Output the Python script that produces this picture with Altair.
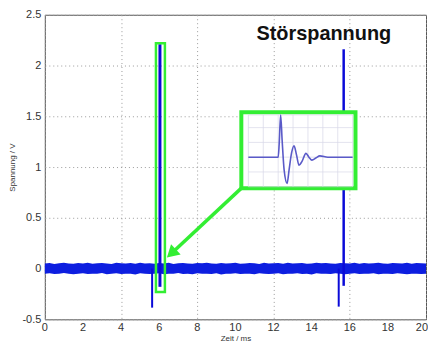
import altair as alt
import numpy as np
import pandas as pd

# ---------------- data ----------------
t_noise = list(np.round(np.arange(0, 20.0001, 0.25), 2))
noise_upper = [0.050, 0.054, 0.044, 0.052, 0.056, 0.050, 0.047, 0.054, 0.050, 0.058,
               0.047, 0.052, 0.054, 0.050, 0.044, 0.056, 0.052, 0.050, 0.054, 0.047,
               0.058, 0.050, 0.052, 0.047, 0.054, 0.050, 0.056, 0.044, 0.052, 0.054,
               0.050, 0.047, 0.054, 0.052, 0.058, 0.050, 0.047, 0.054, 0.050, 0.052,
               0.056, 0.047, 0.050, 0.054, 0.052, 0.044, 0.056, 0.050, 0.052, 0.054,
               0.047, 0.058, 0.050, 0.052, 0.054, 0.047, 0.050, 0.056, 0.052, 0.054,
               0.050, 0.047, 0.054, 0.052, 0.050, 0.056, 0.047, 0.054, 0.050, 0.052,
               0.058, 0.050, 0.047, 0.054, 0.052, 0.050, 0.056, 0.047, 0.054, 0.052,
               0.050]
noise_lower = [-0.050, -0.047, -0.054, -0.050, -0.044, -0.052, -0.056, -0.050, -0.047, -0.054,
               -0.052, -0.050, -0.044, -0.056, -0.050, -0.047, -0.054, -0.052, -0.050, -0.058,
               -0.047, -0.052, -0.054, -0.050, -0.047, -0.056, -0.050, -0.052, -0.044, -0.054,
               -0.050, -0.056, -0.047, -0.052, -0.050, -0.054, -0.047, -0.058, -0.050, -0.052,
               -0.047, -0.054, -0.050, -0.052, -0.056, -0.047, -0.050, -0.054, -0.052, -0.047,
               -0.056, -0.050, -0.052, -0.047, -0.054, -0.050, -0.058, -0.047, -0.052, -0.050,
               -0.054, -0.047, -0.052, -0.056, -0.050, -0.047, -0.054, -0.050, -0.052, -0.047,
               -0.056, -0.050, -0.052, -0.054, -0.047, -0.050, -0.056, -0.052, -0.050, -0.054,
               -0.050]

spike_x = [5.63, 6.04, 15.42, 15.68]
spike_top = [0.0, 2.21, 0.0, 2.16]
spike_bottom = [-0.385, -0.18, -0.375, -0.17]
spike_width = [2.0, 3.0, 2.0, 2.5]

# highlight rectangle around the spike
hl_x = [5.83, 6.30]
hl_y = [-0.23, 2.22]

# arrow from inset to spike
arrow_x = [10.30, 6.64]
arrow_y = [0.79, 0.149]

# inset box (main data coordinates)
box_x = [10.31, 16.30]
box_y = [0.79, 1.54]
# inner plotting area of the inset (main data coordinates)
inner_x = [10.68, 16.15]
inner_y = [0.806, 1.513]

# inset waveform (own units: t 0..105, v -0.7..1.0)
wave_t = [0, 30, 31, 32.5, 34, 36, 39, 41, 43.5, 46, 48.5, 51, 54, 58, 61, 64, 68, 72, 80, 90, 105]
wave_v = [0, 0, 0.3, 1.0, 0.4, -0.3, -0.62, -0.3, 0.1, 0.27, 0.05, -0.19, -0.1, 0.09, 0.0,
          -0.07, -0.02, 0.03, 0, 0, 0]
inset_t_dom = [0, 105]
inset_v_dom = [-0.7, 1.0]
inset_grid_t = [0, 15, 30, 45, 60, 75, 90, 105]
inset_grid_v = [-0.7, -0.35, 0, 0.35, 0.7, 1.0]

title_text = "Störspannung"
x_ticks = list(range(0, 21, 2))
y_ticks = [-0.5, 0, 0.5, 1, 1.5, 2, 2.5]

W, H = 383, 306
XD = [0, 20]
YD = [-0.5, 2.5]
FONT = "Liberation Sans"
GREEN = "#33ee33"
BLUE = "#0d1ee0"

# ---------------- main layers ----------------
xs = alt.Scale(domain=XD, nice=False, zero=False)
ys = alt.Scale(domain=YD, nice=False, zero=False)

noise_df = pd.DataFrame({"t": t_noise, "hi": noise_upper, "lo": noise_lower})
noise = alt.Chart(noise_df).mark_area(color=BLUE, opacity=1).encode(
    x=alt.X("t:Q", scale=xs, title="Zeit / ms",
            axis=alt.Axis(values=x_ticks, labels=False, titlePadding=15)),
    y=alt.Y("hi:Q", scale=ys, title="Spannung / V",
            axis=alt.Axis(values=y_ticks, labelOverlap=False, labelExpr="toString(datum.value)")),
    y2="lo:Q",
)

# x tick labels drawn as text through the x scale
xl_df = pd.DataFrame({"v": x_ticks, "y": YD[0], "lab": [str(v) for v in x_ticks]})
xl_mid = alt.Chart(xl_df[xl_df.v < XD[1]]).mark_text(
    align="center", baseline="top", dy=3, font=FONT, fontSize=11, color="#333").encode(
    x=alt.X("v:Q", scale=xs), y=alt.Y("y:Q", scale=ys), text="lab:N")
xl_end = alt.Chart(xl_df[xl_df.v == XD[1]]).mark_text(
    align="right", baseline="top", dy=3, dx=2, font=FONT, fontSize=11, color="#333").encode(
    x=alt.X("v:Q", scale=xs), y=alt.Y("y:Q", scale=ys), text="lab:N")

spike_df = pd.DataFrame({"x": spike_x, "top": spike_top, "bot": spike_bottom, "w": spike_width})
spikes = alt.Chart(spike_df).mark_rule(color="#0a0ad8").encode(
    x=alt.X("x:Q", scale=xs), y=alt.Y("top:Q", scale=ys), y2="bot:Q",
    strokeWidth=alt.StrokeWidth("w:Q", scale=None),
)

hl_df = pd.DataFrame({"x": [hl_x[0]], "x2": [hl_x[1]], "y": [hl_y[0]], "y2": [hl_y[1]]})
hl = alt.Chart(hl_df).mark_rect(fill=None, stroke=GREEN, strokeWidth=2.5).encode(
    x=alt.X("x:Q", scale=xs), x2="x2:Q", y=alt.Y("y:Q", scale=ys), y2="y2:Q")

arrow_df = pd.DataFrame({"x": arrow_x, "y": arrow_y, "o": [0, 1]})
arrow_line = alt.Chart(arrow_df).mark_line(color=GREEN, strokeWidth=3.5).encode(
    x=alt.X("x:Q", scale=xs), y=alt.Y("y:Q", scale=ys), order="o:Q")
head_df = pd.DataFrame({"x": [arrow_x[1]], "y": [arrow_y[1]]})
arrow_head = alt.Chart(head_df).mark_point(
    shape="triangle-up", filled=True, color=GREEN, size=200, angle=227, opacity=1).encode(
    x=alt.X("x:Q", scale=xs), y=alt.Y("y:Q", scale=ys))

box_df = pd.DataFrame({"x": [box_x[0]], "x2": [box_x[1]], "y": [box_y[0]], "y2": [box_y[1]]})
box = alt.Chart(box_df).mark_rect(fill="white", stroke=GREEN, strokeWidth=4).encode(
    x=alt.X("x:Q", scale=xs), x2="x2:Q", y=alt.Y("y:Q", scale=ys), y2="y2:Q")

title_df = pd.DataFrame({"x": [11.1], "y": [2.31], "label": [title_text]})
title = alt.Chart(title_df).mark_text(
    align="left", baseline="middle", font=FONT, fontSize=20, fontWeight="bold", color="#111").encode(
    x=alt.X("x:Q", scale=xs), y=alt.Y("y:Q", scale=ys), text="label:N")

# ---------------- inset (own units mapped into the box by a calculate transform) ----------------
kx = (inner_x[1] - inner_x[0]) / (inset_t_dom[1] - inset_t_dom[0])
ky = (inner_y[1] - inner_y[0]) / (inset_v_dom[1] - inset_v_dom[0])

def mx(field):
    return f"{inner_x[0]} + ({field} - {inset_t_dom[0]}) * {kx}"

def my(field):
    return f"{inner_y[0]} + ({field} - {inset_v_dom[0]}) * {ky}"

gv_df = pd.DataFrame({"t": inset_grid_t, "v0": inset_v_dom[0], "v1": inset_v_dom[1]})
gh_df = pd.DataFrame({"v": inset_grid_v, "t0": inset_t_dom[0], "t1": inset_t_dom[1]})
ig_v = alt.Chart(gv_df).transform_calculate(
    X=mx("datum.t"), Y0=my("datum.v0"), Y1=my("datum.v1")
).mark_rule(color="#d6d6e6", strokeWidth=0.7).encode(
    x=alt.X("X:Q", scale=xs), y=alt.Y("Y0:Q", scale=ys), y2="Y1:Q")
ig_h = alt.Chart(gh_df).transform_calculate(
    Y=my("datum.v"), X0=mx("datum.t0"), X1=mx("datum.t1")
).mark_rule(color="#d6d6e6", strokeWidth=0.7).encode(
    y=alt.Y("Y:Q", scale=ys), x=alt.X("X0:Q", scale=xs), x2="X1:Q")
wave_df = pd.DataFrame({"t": wave_t, "v": wave_v})
wave = alt.Chart(wave_df).transform_calculate(
    X=mx("datum.t"), Y=my("datum.v")
).mark_line(color="#5a5ac8", strokeWidth=1.6, interpolate="monotone").encode(
    x=alt.X("X:Q", scale=xs), y=alt.Y("Y:Q", scale=ys))

chart = alt.layer(noise, xl_mid, xl_end, spikes, hl, arrow_line, arrow_head, box, title,
                  ig_v, ig_h, wave).properties(
    width=W, height=H, padding=0
).configure_view(stroke="#555", strokeWidth=1).configure_axis(
    labelFont=FONT, labelFontSize=11, labelColor="#333",
    titleFont=FONT, titleFontSize=8, titleFontWeight="normal", titleColor="#333",
    grid=True, gridColor="#9a9a9a", gridDash=[1, 3], gridWidth=1,
    domain=False, ticks=False,
).configure_axisY(labelPadding=4, titlePadding=6)

chart.save("out.html", embed_options={"renderer": "svg", "actions": False})
